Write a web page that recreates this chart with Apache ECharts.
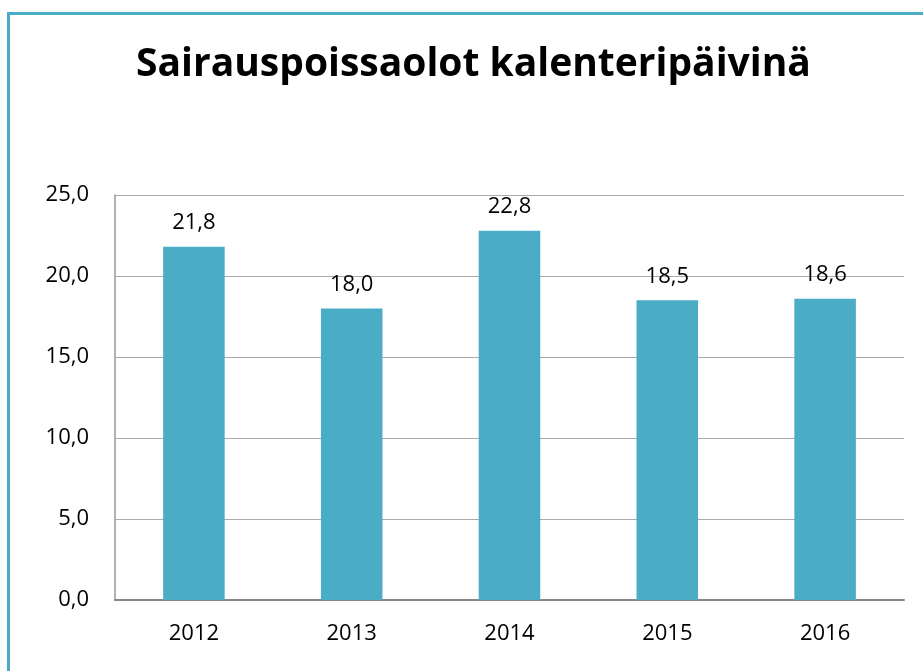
<!DOCTYPE html>
<html>
<head>
<meta charset="utf-8">
<script src="https://cdn.jsdelivr.net/npm/echarts@6/dist/echarts.min.js"></script>
<style>
  html, body { margin: 0; padding: 0; background: #fff; }
  #chart { width: 923px; height: 671px; }
</style>
</head>
<body>
<div id="chart"></div>
<script>
const years = ['2012', '2013', '2014', '2015', '2016'];
const sickDays = [21.8, 18.0, 22.8, 18.5, 18.6];
const yTicks = { min: 0, max: 25, interval: 5 };

const fi = v => v.toFixed(1).replace('.', ',');
const font = "'Open Sans', 'Noto Sans', sans-serif";

const myChart = echarts.init(document.getElementById('chart'));
const option = {
  backgroundColor: '#fff',
  animation: false,
  title: {
    text: 'Sairauspoissaolot kalenteripäivinä',
    left: 131,
    top: 40,
    textStyle: { fontFamily: font, fontWeight: 'bold', fontSize: 39, color: '#000' }
  },
  // teal frame, left + top edges
  graphic: [
    { type: 'rect', shape: { x: 7, y: 12, width: 923, height: 3 }, style: { fill: '#4BACC6' } },
    { type: 'rect', shape: { x: 7, y: 12, width: 3, height: 671 }, style: { fill: '#4BACC6' } }
  ],
  grid: { left: 115, right: 19, top: 195, bottom: 71 },
  xAxis: {
    type: 'category',
    data: years,
    axisLine: { lineStyle: { color: '#888', width: 2 } },
    axisTick: { show: false },
    axisLabel: { fontFamily: font, fontSize: 22, color: '#000', margin: 23 }
  },
  yAxis: {
    type: 'value',
    min: yTicks.min,
    max: yTicks.max,
    interval: yTicks.interval,
    axisLine: { show: true, lineStyle: { color: '#999', width: 1.5 } },
    axisTick: { show: false },
    splitLine: { lineStyle: { color: '#aaa', width: 1 } },
    axisLabel: { fontFamily: font, fontSize: 22, color: '#000', margin: 26, formatter: fi }
  },
  series: [
    {
      type: 'bar',
      data: sickDays,
      barWidth: '39%',
      itemStyle: { color: '#4BACC6' },
      label: {
        show: true,
        position: 'top',
        distance: 13,
        fontFamily: font,
        fontSize: 22,
        color: '#000',
        formatter: p => fi(p.value)
      }
    }
  ]
};
myChart.setOption(option);
window.addEventListener('resize', function () {
  myChart.resize();
});
</script>
</body>
</html>
